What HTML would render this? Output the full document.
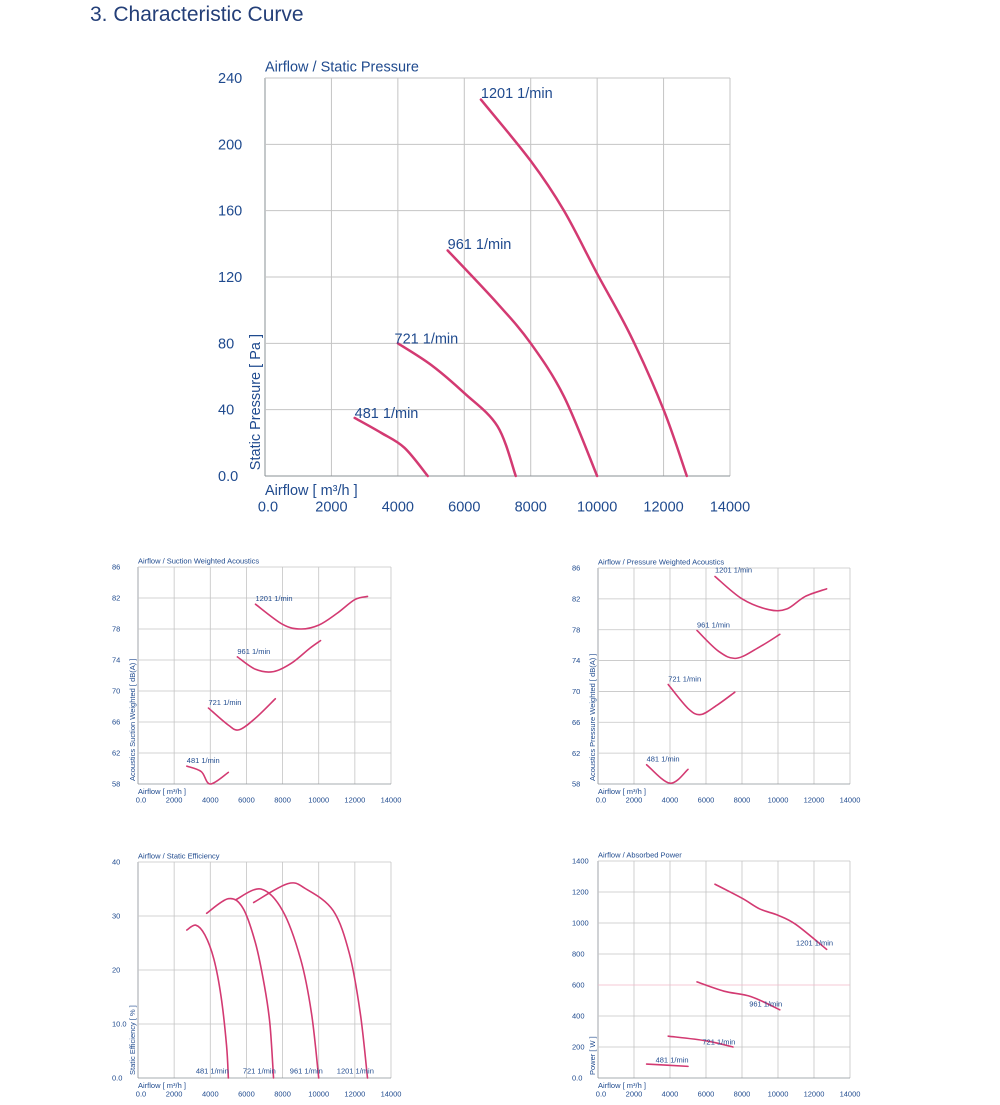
<!DOCTYPE html>
<html><head><meta charset="utf-8"><style>
body{margin:0;background:#fff;width:1000px;height:1105px;overflow:hidden}
svg{position:absolute;left:0;top:0}
text{font-family:"Liberation Sans",sans-serif;fill:#1f4a8e}
</style></head><body>
<svg id="s" width="1000" height="1105" xmlns="http://www.w3.org/2000/svg">
<text x="90" y="21" font-size="21" style="fill:#243f78">3. Characteristic Curve</text>
</svg>
<script>
const S=document.getElementById('s');let h='';
function path(pts,X,Y,w){let p=pts.map(a=>[X(a[0]),Y(a[1])]);let d='M'+p[0][0]+','+p[0][1];
for(let i=0;i<p.length-1;i++){let p0=p[i-1]||p[i],p1=p[i],p2=p[i+1],p3=p[i+2]||p2;
d+=' C'+(p1[0]+(p2[0]-p0[0])/6)+','+(p1[1]+(p2[1]-p0[1])/6)+' '+(p2[0]-(p3[0]-p1[0])/6)+','+(p2[1]-(p3[1]-p1[1])/6)+' '+p2[0]+','+p2[1];}
return '<path d="'+d+'" fill="none" stroke="#d33a72" stroke-width="'+w+'" stroke-linecap="round"/>';}
function chart(c){const X=v=>c.x0+(c.x1-c.x0)*v/14000,Y=v=>c.y0+(c.y1-c.y0)*(v-c.ymin)/(c.ymax-c.ymin);
for(let i=0;i<=7;i++){let x=c.x0+(c.x1-c.x0)*i/7;h+=`<line x1="${x}" y1="${c.y1}" x2="${x}" y2="${c.y0}" stroke="${i==0?'#8a9096':'#c4c4c4'}" stroke-width="${c.gw}"/>`;}
for(let i=0;i<c.yt.length;i++){let y=c.y0+(c.y1-c.y0)*i/(c.yt.length-1);h+=`<line x1="${c.x0}" y1="${y}" x2="${c.x1}" y2="${y}" stroke="${i==0?'#8a9096':(c.pk&&i==3?'#f0b8c8':'#c4c4c4')}" stroke-width="${c.gw}"/>`;
h+=`<text x="${c.x0-c.tx}" y="${y+c.fs*0.35}" font-size="${c.fs}">${c.yt[i]}</text>`;}
['0.0','2000','4000','6000','8000','10000','12000','14000'].forEach((t,i)=>{h+=`<text x="${c.x0+(c.x1-c.x0)*i/7+(i==0?3:0)}" y="${c.y0+c.fs*2.45}" font-size="${c.fs}" text-anchor="middle">${t}</text>`;});
h+=`<text x="${c.x0}" y="${c.y0+c.fs*1.3}" font-size="${c.fs}">Airflow [ m³/h ]</text>`;
h+=`<text x="${c.x0}" y="${c.y1-c.fs*0.45}" font-size="${c.fs}">${c.title}</text>`;
h+=`<text transform="translate(${c.x0-c.yl},${c.y0-c.fs*0.4}) rotate(-90)" font-size="${c.fs}">${c.ylab}</text>`;
c.curves.forEach(k=>{h+=path(k,X,Y,c.lw);});
c.labels.forEach(l=>{h+=`<text x="${X(l[0])}" y="${Y(l[1])}" font-size="${c.lfs||c.fs}">${l[2]}</text>`;});}
chart({x0:265,x1:730,y0:476,y1:78,ymin:0,ymax:240,yt:['0.0','40','80','120','160','200','240'],fs:14.5,gw:1,lw:2.5,tx:47,yl:5,
title:'Airflow / Static Pressure',ylab:'Static Pressure [ Pa ]',
curves:[[[6500,227],[8000,190],[9000,160],[10000,122],[11000,85],[12000,40],[12700,0]],
[[5500,136],[7000,104],[8000,80],[9000,48],[10000,0]],
[[4000,80],[5000,67],[6000,50],[7000,30],[7550,0]],
[[2700,35],[3500,26],[4200,17],[4900,0]]],
labels:[[6500,228,'1201 1/min'],[5500,137,'961 1/min'],[3900,80,'721 1/min'],[2700,35,'481 1/min']]});
const sm={fs:7.5,gw:0.8,lw:1.6,lfs:7.5,tx:26,yl:3};
chart(Object.assign({},sm,{x0:138,x1:391,y0:784,y1:567,ymin:58,ymax:86,yt:['58','62','66','70','74','78','82','86'],
title:'Airflow / Suction Weighted Acoustics',ylab:'Acoustics Suction Weighted [ dB(A) ]',
curves:[[[6500,81.2],[8000,78.6],[9000,78],[10000,78.5],[11000,80],[12000,81.8],[12700,82.2]],
[[5500,74.4],[6500,72.8],[7500,72.5],[8500,73.6],[9500,75.5],[10100,76.5]],
[[3900,67.8],[5000,65.6],[5600,65],[6500,66.5],[7600,69]],
[[2700,60.3],[3500,59.6],[4000,58],[5000,59.5]]],
labels:[[6500,81.6,'1201 1/min'],[5500,74.8,'961 1/min'],[3900,68.2,'721 1/min'],[2700,60.7,'481 1/min']]}));
chart(Object.assign({},sm,{x0:598,x1:850,y0:784,y1:568,ymin:58,ymax:86,yt:['58','62','66','70','74','78','82','86'],
title:'Airflow / Pressure Weighted Acoustics',ylab:'Acoustics Pressure Weighted [ dB(A) ]',
curves:[[[6500,84.9],[8000,82],[9500,80.6],[10500,80.7],[11500,82.3],[12700,83.3]],
[[5500,77.9],[6700,75.2],[7700,74.3],[9000,75.8],[10100,77.4]],
[[3900,70.9],[5000,67.8],[5700,67],[6600,68.2],[7600,69.9]],
[[2700,60.5],[4000,58.1],[5000,59.9]]],
labels:[[6500,85.4,'1201 1/min'],[5500,78.3,'961 1/min'],[3900,71.3,'721 1/min'],[2700,60.9,'481 1/min']]}));
chart(Object.assign({},sm,{x0:138,x1:391,y0:1078,y1:862,ymin:0,ymax:40,yt:['0.0','10.0','20','30','40'],
title:'Airflow / Static Efficiency',ylab:'Static Efficiency [ % ]',
curves:[[[2700,27.4],[3200,28.3],[3700,26.5],[4200,22],[4600,15],[4900,6],[5000,0]],
[[3800,30.5],[5000,33.2],[5800,31.5],[6500,25],[7000,17],[7300,10],[7500,0]],
[[5400,33],[6800,35],[8000,31],[9000,22],[9600,12],[10000,0]],
[[6400,32.5],[8300,36],[9300,35],[10800,31],[11700,23],[12300,12],[12700,0]]],
labels:[[3200,0.8,'481 1/min'],[5800,0.8,'721 1/min'],[8400,0.8,'961 1/min'],[11000,0.8,'1201 1/min']]}));
chart(Object.assign({},sm,{x0:598,x1:850,y0:1078,y1:861,ymin:0,ymax:1400,yt:['0.0','200','400','600','800','1000','1200','1400'],pk:1,
title:'Airflow / Absorbed Power',ylab:'Power [ W ]',
curves:[[[6500,1250],[8000,1160],[9000,1090],[10000,1050],[11000,990],[12700,830]],
[[5500,620],[7000,560],[8500,525],[10100,440]],
[[3900,270],[6000,240],[7500,200]],
[[2700,90],[5000,75]]],
labels:[[11000,855,'1201 1/min'],[8400,460,'961 1/min'],[5800,215,'721 1/min'],[3200,100,'481 1/min']]}));
S.insertAdjacentHTML('beforeend',h);
</script>
</body></html>
